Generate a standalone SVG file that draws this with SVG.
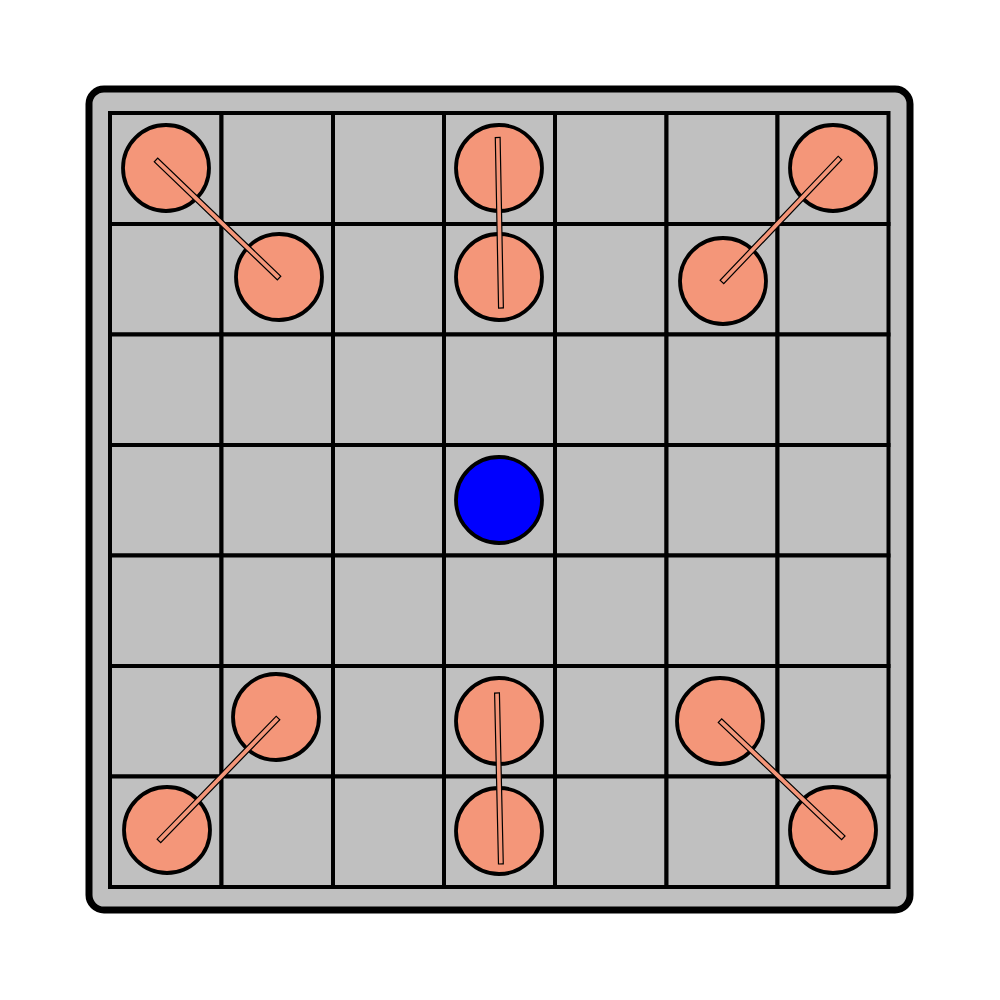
<svg xmlns="http://www.w3.org/2000/svg" width="1000" height="1000" viewBox="0 0 1000 1000">
<style>
.board{fill:#c0c0c0;stroke:#000;stroke-width:7}
.cell{fill:#c0c0c0;stroke:#000;stroke-width:4}
.piece{fill:#f49679;stroke:#000;stroke-width:3.8}
.king{fill:#0000ff;stroke:#000;stroke-width:3.8}
.bar{fill:#f49679;stroke:#000;stroke-width:1.2}
</style>
<rect width="1000" height="1000" fill="#fff"/>
<g id="board">
<rect class="board" x="89" y="89" width="821" height="821" rx="15"/>
<g id="grid">
<rect class="cell" x="110" y="113" width="111.5" height="111"/>
<rect class="cell" x="221.5" y="113" width="111.5" height="111"/>
<rect class="cell" x="333" y="113" width="111" height="111"/>
<rect class="cell" x="444" y="113" width="111" height="111"/>
<rect class="cell" x="555" y="113" width="111.5" height="111"/>
<rect class="cell" x="666.5" y="113" width="111" height="111"/>
<rect class="cell" x="777.5" y="113" width="111" height="111"/>
<rect class="cell" x="110" y="224" width="111.5" height="110.5"/>
<rect class="cell" x="221.5" y="224" width="111.5" height="110.5"/>
<rect class="cell" x="333" y="224" width="111" height="110.5"/>
<rect class="cell" x="444" y="224" width="111" height="110.5"/>
<rect class="cell" x="555" y="224" width="111.5" height="110.5"/>
<rect class="cell" x="666.5" y="224" width="111" height="110.5"/>
<rect class="cell" x="777.5" y="224" width="111" height="110.5"/>
<rect class="cell" x="110" y="334.5" width="111.5" height="110.5"/>
<rect class="cell" x="221.5" y="334.5" width="111.5" height="110.5"/>
<rect class="cell" x="333" y="334.5" width="111" height="110.5"/>
<rect class="cell" x="444" y="334.5" width="111" height="110.5"/>
<rect class="cell" x="555" y="334.5" width="111.5" height="110.5"/>
<rect class="cell" x="666.5" y="334.5" width="111" height="110.5"/>
<rect class="cell" x="777.5" y="334.5" width="111" height="110.5"/>
<rect class="cell" x="110" y="445" width="111.5" height="110.5"/>
<rect class="cell" x="221.5" y="445" width="111.5" height="110.5"/>
<rect class="cell" x="333" y="445" width="111" height="110.5"/>
<rect class="cell" x="444" y="445" width="111" height="110.5"/>
<rect class="cell" x="555" y="445" width="111.5" height="110.5"/>
<rect class="cell" x="666.5" y="445" width="111" height="110.5"/>
<rect class="cell" x="777.5" y="445" width="111" height="110.5"/>
<rect class="cell" x="110" y="555.5" width="111.5" height="110.5"/>
<rect class="cell" x="221.5" y="555.5" width="111.5" height="110.5"/>
<rect class="cell" x="333" y="555.5" width="111" height="110.5"/>
<rect class="cell" x="444" y="555.5" width="111" height="110.5"/>
<rect class="cell" x="555" y="555.5" width="111.5" height="110.5"/>
<rect class="cell" x="666.5" y="555.5" width="111" height="110.5"/>
<rect class="cell" x="777.5" y="555.5" width="111" height="110.5"/>
<rect class="cell" x="110" y="666" width="111.5" height="110.5"/>
<rect class="cell" x="221.5" y="666" width="111.5" height="110.5"/>
<rect class="cell" x="333" y="666" width="111" height="110.5"/>
<rect class="cell" x="444" y="666" width="111" height="110.5"/>
<rect class="cell" x="555" y="666" width="111.5" height="110.5"/>
<rect class="cell" x="666.5" y="666" width="111" height="110.5"/>
<rect class="cell" x="777.5" y="666" width="111" height="110.5"/>
<rect class="cell" x="110" y="776.5" width="111.5" height="110.5"/>
<rect class="cell" x="221.5" y="776.5" width="111.5" height="110.5"/>
<rect class="cell" x="333" y="776.5" width="111" height="110.5"/>
<rect class="cell" x="444" y="776.5" width="111" height="110.5"/>
<rect class="cell" x="555" y="776.5" width="111.5" height="110.5"/>
<rect class="cell" x="666.5" y="776.5" width="111" height="110.5"/>
<rect class="cell" x="777.5" y="776.5" width="111" height="110.5"/>
</g>
</g>
<g id="pieces">
<circle id="p1" class="piece" cx="166" cy="168" r="43"/>
<circle id="p2" class="piece" cx="279" cy="277" r="43"/>
<circle id="p3" class="piece" cx="499" cy="168" r="43"/>
<circle id="p4" class="piece" cx="499" cy="277" r="43"/>
<circle id="p5" class="piece" cx="833" cy="168" r="43"/>
<circle id="p6" class="piece" cx="723" cy="281" r="43"/>
<circle id="king" class="king" cx="499" cy="500" r="43"/>
<circle id="p7" class="piece" cx="276" cy="717" r="43"/>
<circle id="p8" class="piece" cx="167" cy="830" r="43"/>
<circle id="p9" class="piece" cx="499" cy="721" r="43"/>
<circle id="p10" class="piece" cx="499" cy="831" r="43"/>
<circle id="p11" class="piece" cx="720" cy="721" r="43"/>
<circle id="p12" class="piece" cx="833" cy="830" r="43"/>
</g>
<g id="connectors">
<rect class="bar" x="0" y="-2.5" width="170.5" height="5" transform="translate(156,160) rotate(43.8)"/>
<rect class="bar" x="0" y="-2.4" width="170.5" height="4.8" transform="translate(497.7,137.5) rotate(88.9)"/>
<rect class="bar" x="0" y="-2.5" width="171.2" height="5" transform="translate(840,158) rotate(133.6)"/>
<rect class="bar" x="0" y="-2.5" width="171.1" height="5" transform="translate(278,718) rotate(134.1)"/>
<rect class="bar" x="0" y="-2.4" width="171" height="4.8" transform="translate(497,693) rotate(88.7)"/>
<rect class="bar" x="0" y="-2.5" width="170" height="5" transform="translate(720,720.7) rotate(43.5)"/>
</g>
</svg>
